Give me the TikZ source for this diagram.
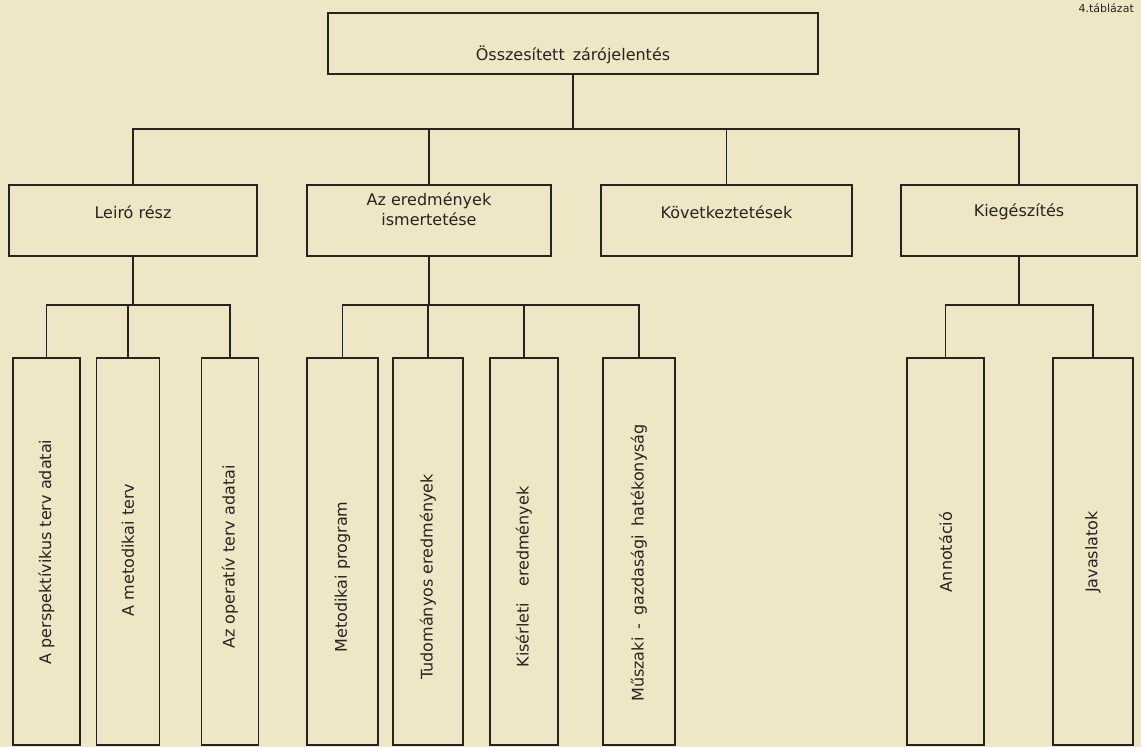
\documentclass[tikz,border=0pt]{standalone}
\usepackage{fontspec}
\setmainfont{DejaVu Sans}
\definecolor{paper}{HTML}{EFE6C5}
\definecolor{ink}{HTML}{262420}
\begin{document}
\begin{tikzpicture}[x=1pt,y=-1pt,
  box/.style={draw=ink, line width=1.8pt, inner sep=0pt},
  conn/.style={draw=ink, line width=1.2pt},
  lbl/.style={font=\fontsize{16}{20}\selectfont, text=ink, inner sep=0pt, align=center},
  vlbl/.style={font=\fontsize{16}{20}\selectfont, text=ink, inner sep=0pt, rotate=90},
  leaf/.style={box, minimum width=#1, minimum height=387},
]
\fill[paper] (0,0) rectangle (1141,747);
\useasboundingbox (0,0) rectangle (1141,747);

% caption
\node[font=\fontsize{11}{13}\selectfont, text=ink, anchor=base east, inner sep=0pt] (cap) at (1134,12) {4.táblázat};

% top
\node[box, minimum width=490, minimum height=61] (top) at (573,43.5) {};
\node[lbl] (ttop) at (573,55) {Összesített\enspace zárójelentés};

% level 2
\node[box, minimum width=248, minimum height=71] (leiro) at (133,220.5) {};
\node[lbl] (tleiro) at (133,212) {Leiró rész};
\node[box, minimum width=244, minimum height=71] (az) at (429,220.5) {};
\node[lbl] (taz) at (429,209) {Az eredmények\\ismertetése};
\node[box, minimum width=251, minimum height=71] (kov) at (726.5,220.5) {};
\node[lbl] (tkov) at (726.5,212) {Következtetések};
\node[box, minimum width=236, minimum height=71] (kieg) at (1019,220.5) {};
\node[lbl] (tkieg) at (1019,212) {Kiegészítés};

% level 3
\node[leaf=67] (b1) at (46.5,551.5) {};
\node[leaf=63] (b2) at (128,551.5) {};
\node[leaf=57] (b3) at (230,551.5) {};
\node[leaf=71] (b4) at (342.5,551.5) {};
\node[leaf=70] (b5) at (428,551.5) {};
\node[leaf=68] (b6) at (524,551.5) {};
\node[leaf=72] (b7) at (639,551.5) {};
\node[leaf=77] (b8) at (945.5,551.5) {};
\node[leaf=80] (b9) at (1093,551.5) {};

\node[vlbl] (t1) at (46.5,552) {A perspektívikus terv adatai};
\node[vlbl] (t2) at (128,550) {A metodikai terv};
\node[vlbl] (t3) at (230,557) {Az operatív terv adatai};
\node[vlbl] (t4) at (342.5,577) {Metodikai program};
\node[vlbl] (t5) at (428,577) {Tudományos eredmények};
\node[vlbl] (t6) at (524,577) {Kisérleti\quad eredmények};
\node[vlbl] (t7) at (639,563) {Műszaki\enspace -\enspace gazdasági\enspace hatékonyság};
\node[vlbl] (t8) at (945.5,552) {Annotáció};
\node[vlbl] (t9) at (1093,552) {Javaslatok};

% connectors
\coordinate (barT) at (0,129);
\coordinate (barL) at (0,305);

\draw[conn] (top.south) -- (top.south |- barT);
\draw[conn] (leiro.north) |- (kieg.north |- barT) -- (kieg.north);
\draw[conn] (az.north) -- (az.north |- barT);
\draw[conn] (kov.north) -- (kov.north |- barT);

\draw[conn] (leiro.south) -- (leiro.south |- barL);
\draw[conn] (b1.north) |- (b3.north |- barL) -- (b3.north);
\draw[conn] (b2.north) -- (b2.north |- barL);

\draw[conn] (az.south) -- (az.south |- barL);
\draw[conn] (b4.north) |- (b7.north |- barL) -- (b7.north);
\draw[conn] (b5.north) -- (b5.north |- barL);
\draw[conn] (b6.north) -- (b6.north |- barL);

\draw[conn] (kieg.south) -- (kieg.south |- barL);
\draw[conn] (b8.north) |- (b9.north |- barL) -- (b9.north);
\end{tikzpicture}
\end{document}
